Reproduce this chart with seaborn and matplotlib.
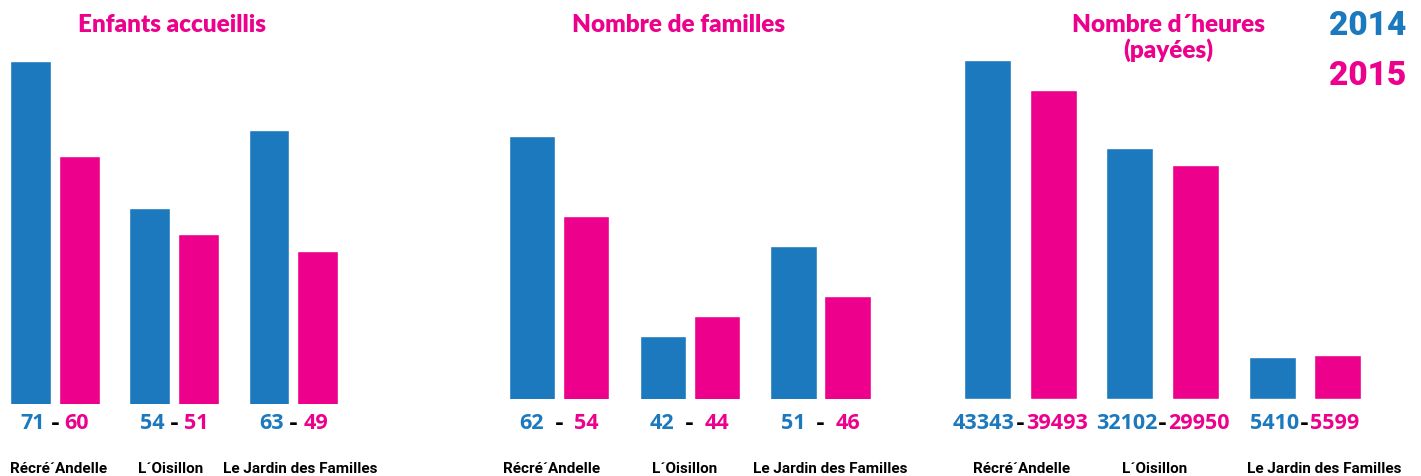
import matplotlib.pyplot as plt
import matplotlib.transforms as mtransforms
import seaborn as sns
import pandas as pd

structures = ["Récré´Andelle", "L´Oisillon", "Le Jardin des Familles"]
years = ["2014", "2015"]

enfants_2014 = [71, 54, 63]
enfants_2015 = [60, 51, 49]
familles_2014 = [62, 42, 51]
familles_2015 = [54, 44, 46]
heures_2014 = [43343, 32102, 5410]
heures_2015 = [39493, 29950, 5599]

titles = ["Enfants accueillis", "Nombre de familles", "Nombre d´heures\n(payées)"]

BLUE = "#1c79be"
PINK = "#ec008c"


def long_df(v2014, v2015):
    rows = []
    for s, a, b in zip(structures, v2014, v2015):
        rows.append({"Structure": s, "Annee": "2014", "Valeur": a})
        rows.append({"Structure": s, "Annee": "2015", "Valeur": b})
    return pd.DataFrame(rows)


def main():
    sns.set_style("white")
    fig = plt.figure(figsize=(14.21, 4.77), dpi=100)
    W, H = 1421.0, 477.0

    # (data, left px, right px, bottom px, xlim, ylim, width, gap, dash spacing, label offsets)
    panels = [
        (long_df(enfants_2014, enfants_2015), 0, 360, 405, (-0.461, 2.558), (31.2, 73.6),
         0.82, 0.163, 7, [0.034, -0.03, 0.055]),
        (long_df(familles_2014, familles_2015), 480, 900, 400, (-0.604, 2.608), (35.7, 71.7),
         0.826, 0.148, 11, [-0.054, -0.04, 0.073]),
        (long_df(heures_2014, heures_2015), 940, 1400, 400, (-0.566, 2.67), (0, 46000),
         0.92, 0.28, 4, [0.01, -0.055, 0.137]),
    ]
    title_x = [172, 679, 1168]
    title_y = [25, 25, 38]

    for k, (df, lpx, rpx, bpx, xl, yl, width, gap, dsp, loff) in enumerate(panels):
        ax = fig.add_axes([lpx / W, 1 - bpx / H, (rpx - lpx) / W, (bpx - 40) / H])
        sns.barplot(data=df, x="Structure", y="Valeur", hue="Annee",
                    palette={"2014": BLUE, "2015": PINK}, width=width, gap=gap,
                    saturation=1, legend=False, ax=ax)
        ax.set_xlim(*xl)
        ax.set_ylim(*yl)
        ax.axis("off")

        tr = mtransforms.blended_transform_factory(ax.transData, fig.transFigure)
        for i, s in enumerate(structures):
            sub = df[df["Structure"] == s]
            v1 = sub[sub["Annee"] == "2014"]["Valeur"].iloc[0]
            v2 = sub[sub["Annee"] == "2015"]["Valeur"].iloc[0]
            ax.annotate("-", xy=(i, 1 - 424 / H), xycoords=tr, ha="center", va="center",
                        fontsize=15.5, fontweight="bold", color="black", annotation_clip=False)
            ax.annotate(str(v1), xy=(i, 1 - 424 / H), xycoords=tr, xytext=(-dsp, 0),
                        textcoords="offset points", ha="right", va="center",
                        fontsize=15.5, fontweight="bold", color=BLUE, family="Open Sans",
                        annotation_clip=False)
            ax.annotate(str(v2), xy=(i, 1 - 424 / H), xycoords=tr, xytext=(dsp, 0),
                        textcoords="offset points", ha="left", va="center",
                        fontsize=15.5, fontweight="bold", color=PINK, family="Open Sans",
                        annotation_clip=False)
            ax.text(i + loff[i], 1 - 469 / H, s, transform=tr, ha="center", va="center",
                    fontsize=11, fontweight="bold", family="Roboto", color="black")

        fig.text(title_x[k] / W, 1 - title_y[k] / H, titles[k], ha="center", va="center",
                 fontsize=17.5, fontweight="heavy", color=PINK, family="Lato", linespacing=1.1)

    fig.text(1368 / W, 1 - 26 / H, "2014", ha="center", va="center", fontsize=24,
             fontweight="heavy", color=BLUE, family="Roboto")
    fig.text(1368 / W, 1 - 76 / H, "2015", ha="center", va="center", fontsize=24,
             fontweight="heavy", color=PINK, family="Roboto")

    plt.savefig("out.png", dpi=100)


if __name__ == "__main__":
    main()
